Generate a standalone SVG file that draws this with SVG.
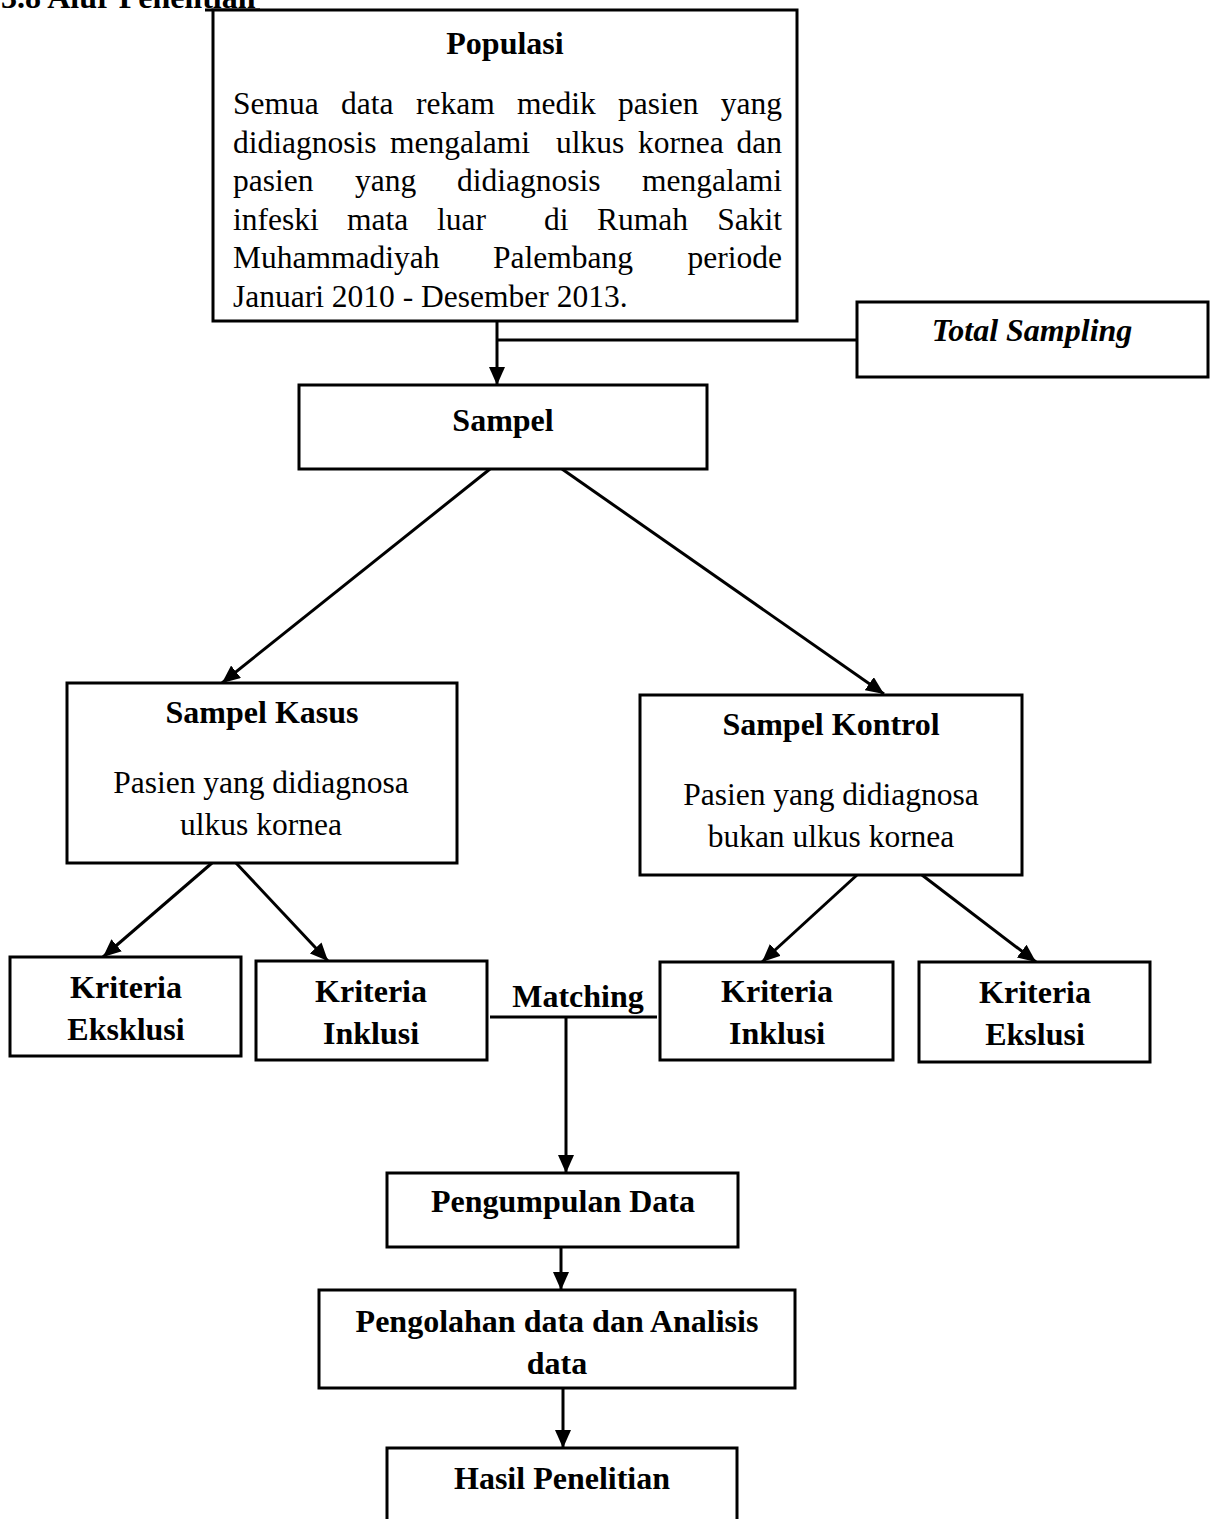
<svg xmlns="http://www.w3.org/2000/svg" width="1213" height="1519" viewBox="0 0 1213 1519">
<style>
.box{fill:#fff;stroke:#000;stroke-width:3}
.b{font-family:"Liberation Serif","Times New Roman",serif;font-weight:bold;font-size:32px;fill:#000}
.r{font-family:"Liberation Serif","Times New Roman",serif;font-size:31.5px;fill:#000}
.c{text-anchor:middle}
.e{text-anchor:end}
.ln{stroke:#000;stroke-width:3;fill:none}
</style>
<defs>
<marker id="ah" markerUnits="userSpaceOnUse" markerWidth="18" markerHeight="16" refX="18" refY="8" orient="auto">
<path d="M0,0 L18,8 L0,16 z" fill="#000"/>
</marker>
</defs>
<rect width="1213" height="1519" fill="#fff"/>
<g id="title">
<text class="b" x="1" y="8">3.8 Alur Penelitian</text>
<line class="ln" x1="205" y1="10" x2="260" y2="10" stroke-width="2"/>
</g>
<g id="connectors">
<line class="ln" x1="497" y1="321" x2="497" y2="385" marker-end="url(#ah)"/>
<line class="ln" x1="497" y1="340" x2="857" y2="340"/>
<line class="ln" x1="490" y1="469" x2="222" y2="683" marker-end="url(#ah)"/>
<line class="ln" x1="562" y1="469" x2="884" y2="694" marker-end="url(#ah)"/>
<line class="ln" x1="212" y1="863" x2="103" y2="957" marker-end="url(#ah)"/>
<line class="ln" x1="236" y1="863" x2="328" y2="961" marker-end="url(#ah)"/>
<line class="ln" x1="857" y1="875" x2="762" y2="962" marker-end="url(#ah)"/>
<line class="ln" x1="922" y1="875" x2="1036" y2="962" marker-end="url(#ah)"/>
<line class="ln" x1="490" y1="1017" x2="657" y2="1017" stroke-width="2.5"/>
<line class="ln" x1="566" y1="1017" x2="566" y2="1173" marker-end="url(#ah)"/>
<line class="ln" x1="561" y1="1247" x2="561" y2="1290" marker-end="url(#ah)"/>
<line class="ln" x1="563" y1="1388" x2="563" y2="1448" marker-end="url(#ah)"/>
</g>
<g id="populasi">
<rect class="box" x="213" y="10" width="584" height="311"/>
<text class="b c" x="505" y="54">Populasi</text>
<text class="r" x="233" y="114">Semua</text>
<text class="r" x="341" y="114">data</text>
<text class="r" x="416" y="114">rekam</text>
<text class="r" x="517" y="114">medik</text>
<text class="r" x="618" y="114">pasien</text>
<text class="r e" x="782" y="114">yang</text>
<text class="r" x="233" y="152.5">didiagnosis</text>
<text class="r" x="390" y="152.5">mengalami</text>
<text class="r" x="556" y="152.5">ulkus</text>
<text class="r" x="638" y="152.5">kornea</text>
<text class="r e" x="782" y="152.5">dan</text>
<text class="r" x="233" y="191">pasien</text>
<text class="r" x="355" y="191">yang</text>
<text class="r" x="457" y="191">didiagnosis</text>
<text class="r e" x="782" y="191">mengalami</text>
<text class="r" x="233" y="229.5">infeski</text>
<text class="r" x="347" y="229.5">mata</text>
<text class="r" x="437" y="229.5">luar</text>
<text class="r" x="544" y="229.5">di</text>
<text class="r" x="597" y="229.5">Rumah</text>
<text class="r e" x="782" y="229.5">Sakit</text>
<text class="r" x="233" y="268">Muhammadiyah</text>
<text class="r" x="493" y="268">Palembang</text>
<text class="r e" x="782" y="268">periode</text>
<text class="r" x="233" y="306.5">Januari 2010 - Desember 2013.</text>
</g>
<g id="total-sampling">
<rect class="box" x="857" y="302" width="351" height="75"/>
<text class="b c" x="1032" y="341" font-style="italic">Total Sampling</text>
</g>
<g id="sampel">
<rect class="box" x="299" y="385" width="408" height="84"/>
<text class="b c" x="503" y="431">Sampel</text>
</g>
<g id="sampel-kasus">
<rect class="box" x="67" y="683" width="390" height="180"/>
<text class="b c" x="262" y="723">Sampel Kasus</text>
<text class="r c" x="261" y="793">Pasien yang didiagnosa</text>
<text class="r c" x="261" y="835">ulkus kornea</text>
</g>
<g id="sampel-kontrol">
<rect class="box" x="640" y="695" width="382" height="180"/>
<text class="b c" x="831" y="735">Sampel Kontrol</text>
<text class="r c" x="831" y="805">Pasien yang didiagnosa</text>
<text class="r c" x="831" y="847">bukan ulkus kornea</text>
</g>
<g id="kriteria-eksklusi-kasus">
<rect class="box" x="10" y="957" width="231" height="99"/>
<text class="b c" x="126" y="998">Kriteria</text>
<text class="b c" x="126" y="1040">Eksklusi</text>
</g>
<g id="kriteria-inklusi-kasus">
<rect class="box" x="256" y="961" width="231" height="99"/>
<text class="b c" x="371" y="1002">Kriteria</text>
<text class="b c" x="371" y="1044">Inklusi</text>
</g>
<g id="matching">
<text class="b c" x="578" y="1007">Matching</text>
</g>
<g id="kriteria-inklusi-kontrol">
<rect class="box" x="660" y="962" width="233" height="98"/>
<text class="b c" x="777" y="1002">Kriteria</text>
<text class="b c" x="777" y="1044">Inklusi</text>
</g>
<g id="kriteria-ekslusi-kontrol">
<rect class="box" x="919" y="962" width="231" height="100"/>
<text class="b c" x="1035" y="1003">Kriteria</text>
<text class="b c" x="1035" y="1045">Ekslusi</text>
</g>
<g id="pengumpulan-data">
<rect class="box" x="387" y="1173" width="351" height="74"/>
<text class="b c" x="563" y="1212">Pengumpulan Data</text>
</g>
<g id="pengolahan-data">
<rect class="box" x="319" y="1290" width="476" height="98"/>
<text class="b c" x="557" y="1332">Pengolahan data dan Analisis</text>
<text class="b c" x="557" y="1374">data</text>
</g>
<g id="hasil-penelitian">
<rect class="box" x="387" y="1448" width="350" height="90"/>
<text class="b c" x="562" y="1489">Hasil Penelitian</text>
</g>
</svg>
